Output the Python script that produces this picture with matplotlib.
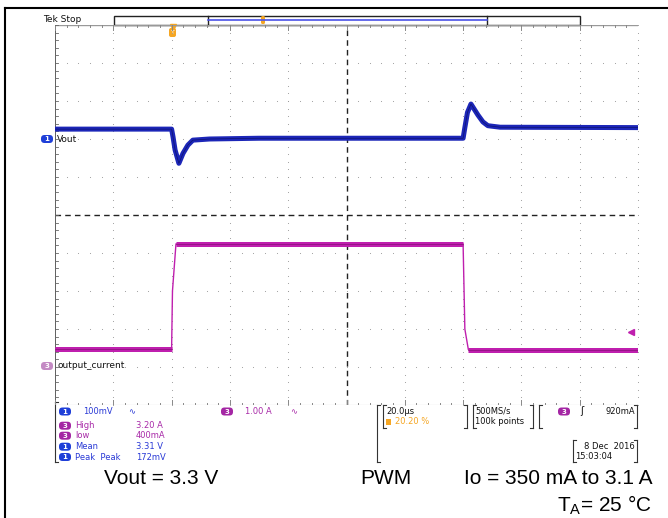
import numpy as np
import matplotlib.pyplot as plt
from matplotlib.patches import FancyBboxPatch, Rectangle

# scope settings
t_div = 20.0      # us / div
v_div = 100.0     # mV / div
i_div = 1.0       # A / div
ch1_pos = 2.0     # div
ch3_pos = -4.0    # div

# ch1: Vout deviation (mV) vs time (us)
vout_t = [0, 40.0, 40.5, 41.2, 42.5, 43.9, 45.6, 47.3, 53.0, 70.0, 140.0,
          140.6, 141.5, 142.7, 145.1, 146.8, 148.5, 152.7, 200]
vout_mv = [26, 26, 5, -29, -64, -38, -16, -3, 0, 2, 2,
           30, 70, 92, 63, 45, 35, 31, 30]

# ch3: output current (A) vs time (us)
iout_t = [0, 40.0, 40.3, 41.5, 140.0, 140.6, 141.8, 200]
iout_a = [0.47, 0.47, 2.0, 3.24, 3.24, 1.0, 0.46, 0.46]
trig_level = 0.92

# readouts
meas_names = ['High', 'low', 'Mean', 'Peak  Peak']
meas_vals = ['3.20 A', '400mA', '3.31 V', '172mV']
meas_ch = ['3', '3', '1', '1']

BLUE = '#1c26b8'
BLUE_TXT = '#2a3ad6'
PURP = '#bf1fae'
PURP_TXT = '#a82aa8'
ORANGE = '#f5a623'

W, H = 668, 518
fig = plt.figure(figsize=(W / 100, H / 100), dpi=100)

# pixel overlay for frame, labels and readouts
bg = fig.add_axes([0, 0, 1, 1])
bg.set_xlim(0, W)
bg.set_ylim(H, 0)
bg.axis('off')

# scope graticule: 10 x 10 div
gl, gr, gt, gb = 55, 638, 25, 405
ax = fig.add_axes([gl / W, 1 - gb / H, (gr - gl) / W, (gb - gt) / H])
ax.set_xlim(0, 10 * t_div)
ax.set_ylim(-5, 5)
ax.axis('off')
ax.patch.set_alpha(0)


def badge(x, y, num, color, w=12, h=8):
    bg.add_patch(FancyBboxPatch((x - w / 2, y - h / 2), w, h,
                                boxstyle='round,pad=0,rounding_size=3.5',
                                fc=color, ec='none'))
    bg.text(x, y + 0.3, num, color='white', fontsize=5, ha='center',
            va='center', fontweight='bold')


def bracket(x, y0, y1, side=1):
    bg.plot([x, x], [y0, y1], color='#333333', lw=0.8)
    bg.plot([x, x + 3 * side], [y0, y0], color='#333333', lw=0.8)
    bg.plot([x, x + 3 * side], [y1, y1], color='#333333', lw=0.8)


# outer frame
bg.plot([5, W], [8, 8], color='black', lw=1.5)
bg.plot([5, 5], [8, H], color='black', lw=1.5)

# grid dots
for k in range(1, 11):
    if k == 5:
        continue
    yy = np.arange(-5, 5.01, 0.2)
    ax.scatter(np.full(len(yy), k * t_div), yy, s=0.6, color='#9a9a9a', lw=0)
for k in range(-4, 5):
    if k == 0:
        continue
    xx = np.arange(0, 200.1, 4)
    ax.scatter(xx, np.full(len(xx), k), s=0.6, color='#9a9a9a', lw=0)

# centre cross and edges
ax.axhline(0, color='#222222', lw=1, ls=(0, (4, 3)))
ax.axvline(100, color='#222222', lw=1, ls=(0, (4, 3)))
ax.plot([0, 0], [-5, 5], color='#444444', lw=1.2)
ax.plot([0, 200], [5, 5], color='#999999', lw=1)
ax.plot([0, 200], [-5, -5], color='#aaaaaa', lw=0.8)
for xt in np.arange(0, 200.1, 4):
    big = abs(xt / t_div - round(xt / t_div)) < 1e-6
    ax.plot([xt, xt], [-5, -5 + (0.12 if big else 0.06)], color='#888888', lw=0.7)
    ax.plot([xt, xt], [5, 5 - (0.12 if big else 0.06)], color='#888888', lw=0.7)
for yt in np.arange(-5, 5.01, 0.2):
    ax.plot([0, 1.2], [yt, yt], color='#666666', lw=0.6)

# traces: thick on flat parts, thin on fast edges
vt = np.array(vout_t)
vy = np.array(vout_mv) / v_div + ch1_pos
ax.plot(vt, vy, color=BLUE, lw=3.6, solid_joinstyle='round', zorder=5)
ax.plot(vt, vy, color='#0d1270', lw=0.5, zorder=6)

it = np.array(iout_t)
iy = np.array(iout_a) / i_div + ch3_pos
ax.plot(it, iy, color=PURP, lw=1.0, zorder=5)
for i in range(len(it) - 1):
    if abs(iy[i + 1] - iy[i]) < 0.5:
        ax.plot(it[i:i + 2], iy[i:i + 2], color=PURP, lw=3.6,
                solid_capstyle='butt', zorder=5)
        ax.plot(it[i:i + 2], iy[i:i + 2], color='#861078', lw=0.5, zorder=6)

# trigger level marker (right edge)
ax.plot(197.5, trig_level / i_div + ch3_pos, marker='<', color=PURP,
        markersize=4, zorder=7)

# channel markers and labels
badge(47, 139, '1', '#1f3fd8')
bg.text(57, 139, 'Vout', fontsize=6.5, va='center', color='#111111')
badge(47, 366, '3', '#c48ac4')
bg.text(57, 366, 'output_current', fontsize=6.5, va='center', color='#111111')

# header
bg.text(43, 20, 'Tek Stop', fontsize=6.5, va='center', color='#111111')
bg.add_patch(Rectangle((114, 16), 466, 9, fc='white', ec='#222222', lw=1))
bg.plot([208, 208], [16, 25], color='#222222', lw=1)
bg.plot([487, 487], [16, 25], color='#222222', lw=1)
bg.plot([208, 487], [19.5, 19.5], color='#4a52e8', lw=1.2)
bg.add_patch(FancyBboxPatch((261, 16), 4, 8, boxstyle='round,pad=0,rounding_size=1.5',
                            fc=ORANGE, ec='none'))
bg.add_patch(FancyBboxPatch((169, 28), 7, 9, boxstyle='round,pad=0,rounding_size=2',
                            fc=ORANGE, ec='none'))
bg.plot(172.5, 27, marker='v', color=ORANGE, markersize=4)
bg.text(172.5, 33, 'T', fontsize=4.5, color='white', ha='center', va='center')

# bottom readouts
fs = 6
bracket(55, 402, 462)
badge(65, 411.5, '1', '#1f3fd8')
bg.text(83, 411.5, '100mV', fontsize=fs, color=BLUE_TXT, va='center')
bg.text(128, 411.5, '∿', fontsize=fs, color=BLUE_TXT, va='center')
badge(227, 411.5, '3', '#a426a4')
bg.text(245, 411.5, '1.00 A', fontsize=fs, color=PURP_TXT, va='center')
bg.text(290, 411.5, '∿', fontsize=fs, color=PURP_TXT, va='center')

row_y = [425.7, 435.7, 446.7, 457]
for y, name, val, ch in zip(row_y, meas_names, meas_vals, meas_ch):
    c_badge = '#a426a4' if ch == '3' else '#1f3fd8'
    c_txt = PURP_TXT if ch == '3' else BLUE_TXT
    badge(65, y, ch, c_badge, h=8)
    bg.text(75, y, name, fontsize=fs, color=c_txt, va='center')
    bg.text(136, y, val, fontsize=fs, color=c_txt, va='center')

bracket(377, 405, 462)
bracket(383, 405, 428)
bracket(467, 405, 428, -1)
bg.text(386, 411.5, '20.0µs', fontsize=fs, color='#111111', va='center')
bg.add_patch(Rectangle((386, 418.5), 5, 6, fc=ORANGE, ec='none'))
bg.text(395, 421.7, '20.20 %', fontsize=fs, color=ORANGE, va='center')

bracket(473, 405, 428)
bracket(533, 405, 428, -1)
bg.text(475, 411.5, '500MS/s', fontsize=fs, color='#111111', va='center')
bg.text(475, 421.7, '100k points', fontsize=fs, color='#111111', va='center')

bracket(539, 405, 428)
bracket(637, 405, 428, -1)
badge(564, 411.5, '3', '#a426a4')
bg.text(580, 411.5, 'ʃ', fontsize=fs + 1, color='#111111', va='center')
bg.text(635, 411.5, '920mA', fontsize=fs, color='#111111', va='center', ha='right')

bracket(573, 440, 462)
bracket(637, 440, 462, -1)
bg.text(635, 446.7, '8 Dec  2016', fontsize=fs, color='#111111', va='center', ha='right')
bg.text(575, 456.5, '15:03:04', fontsize=fs, color='#111111', va='center')

# conditions
cfs = 15
bg.text(104, 479, 'Vout = 3.3 V', fontsize=cfs, family='Liberation Sans', va='center')
bg.text(360, 479, 'PWM', fontsize=cfs, family='Liberation Sans', va='center')
bg.text(652, 479, 'Io = 350 mA to 3.1 A', fontsize=cfs, family='Liberation Sans',
        va='center', ha='right')
bg.text(652, 505, 'T$_\\mathregular{A}$= 25 °C', fontsize=cfs, family='Liberation Sans',
        va='center', ha='right')

fig.savefig('out.png', dpi=100)
